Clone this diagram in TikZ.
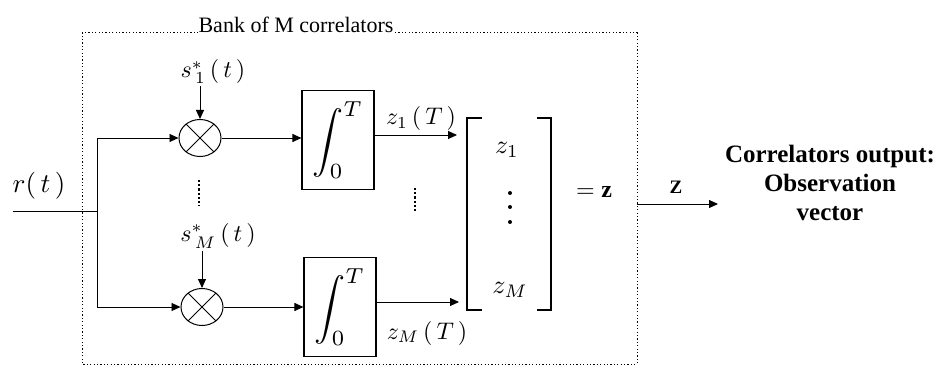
\documentclass[tikz,border=0pt]{standalone}
\usepackage{fontspec}
\setmainfont{Liberation Serif}
\usetikzlibrary{arrows.meta,shapes.geometric}
\newcommand{\sclab}[2][2.4]{\scalebox{#1}{#2}}
\begin{document}
\begin{tikzpicture}[x=1pt,y=-1pt]
\tikzset{
 conn/.style={line width=0.9pt},
 arr/.style={conn,-{Triangle[length=9pt,width=8pt]}},
 mult/.style={draw,line width=1pt,ellipse,minimum width=42pt,minimum height=37pt,inner sep=0pt},
 intbox/.style={draw,line width=1.1pt,minimum width=72pt,minimum height=99pt,inner sep=0pt},
 lab/.style={inner sep=0pt},
 dotbox/.style={line width=1pt,dash pattern=on 1.2pt off 2.2pt},
 vdotsline/.style={line width=2.5pt,dash pattern=on 2.2pt off 2pt},
 brk/.style={line width=1.6pt},
}
\useasboundingbox (0,0) rectangle (940,374);
% frame and title
\node[font=\fontsize{22}{26}\selectfont, inner sep=0pt, anchor=base] (title) at (296,33) {Bank of M correlators};
\draw[dotbox] (title.base west) -- (82,33) -- (82,364) -- (637,364) -- (637,33) -- (title.base east);
% input
\node[lab] (r) at (39,186) {\sclab[2.7]{$r(\,t\,)$}};
\coordinate (in) at (13,211);
\coordinate (split) at (97,211);
\draw[conn] (in) -- (split);
% multipliers
\node[mult] (m1) at (200,138) {};
\node[mult] (mM) at (202,307) {};
\draw[conn] (m1.45) -- (m1.225) (m1.135) -- (m1.315);
\draw[conn] (mM.45) -- (mM.225) (mM.135) -- (mM.315);
\draw[arr] (split) |- (m1.west);
\draw[arr] (split) |- (mM.west);
\node[lab] (s1) at (213,72) {\sclab[2.4]{$s^{*}_{\,1}\,(\,t\,)$}};
\node[lab] (sM) at (218,236) {\sclab[2.4]{$s^{*}_{\,M}\,(\,t\,)$}};
\draw[arr, shorten <=2pt] (m1.north |- s1.south) -- (m1.north);
\draw[arr, shorten <=2pt] (mM.north |- sM.south) -- (mM.north);
\draw[vdotsline] (199,180) -- (199,206);
% integrators
\node[intbox] (i1) at (338,140) {\sclab[3.1]{$\displaystyle\int_0^T$}};
\node[intbox] (iM) at (340,307) {\sclab[3.1]{$\displaystyle\int_0^T$}};
\draw[arr] (m1.east) -- (m1.east -| i1.west);
\draw[arr] (mM.east) -- (mM.east -| iM.west);
\coordinate (z1end) at (457,135);
\coordinate (zMend) at (459,302);
\draw[arr] (i1.east |- z1end) -- (z1end);
\draw[arr] (iM.east |- zMend) -- (zMend);
\node[lab] (z1T) at (421,119) {\sclab[2.4]{$z_1\,(\,T\,)$}};
\node[lab] (zMT) at (427,333) {\sclab[2.4]{$z_M\,(\,T\,)$}};
\draw[vdotsline] (415,188) -- (415,211);
% vector bracket
\node[minimum width=84pt, minimum height=192pt, inner sep=0pt] (vec) at (509,214) {};
\draw[brk] ([xshift=15pt]vec.north west) -- (vec.north west) -- (vec.south west) -- ([xshift=15pt]vec.south west);
\draw[brk] ([xshift=-14pt]vec.north east) -- (vec.north east) -- (vec.south east) -- ([xshift=-14pt]vec.south east);
\node[lab] (vz1) at (507,150) {\sclab[2.6]{$z_1$}};
\fill (510,193) circle (2pt) (510,207) circle (2pt) (510,222) circle (2pt);
\node[lab] (vzM) at (510,290) {\sclab[2.6]{$z_M$}};
\node[lab] (eqz) at (594,192) {\sclab{$=\mathbf{z}$}};
% output
\coordinate (boxE) at (637,204);
\coordinate (out) at (718,204);
\draw[arr] (boxE) -- (out);
\node[font=\bfseries\fontsize{19}{22}\selectfont, inner sep=0pt] (Z) at (676,187) {Z};
\node[align=center, inner sep=0pt, font=\bfseries\fontsize{25}{29}\selectfont] (desc) at (830,183) {Correlators output:\\Observation\\vector};
\end{tikzpicture}
\end{document}
